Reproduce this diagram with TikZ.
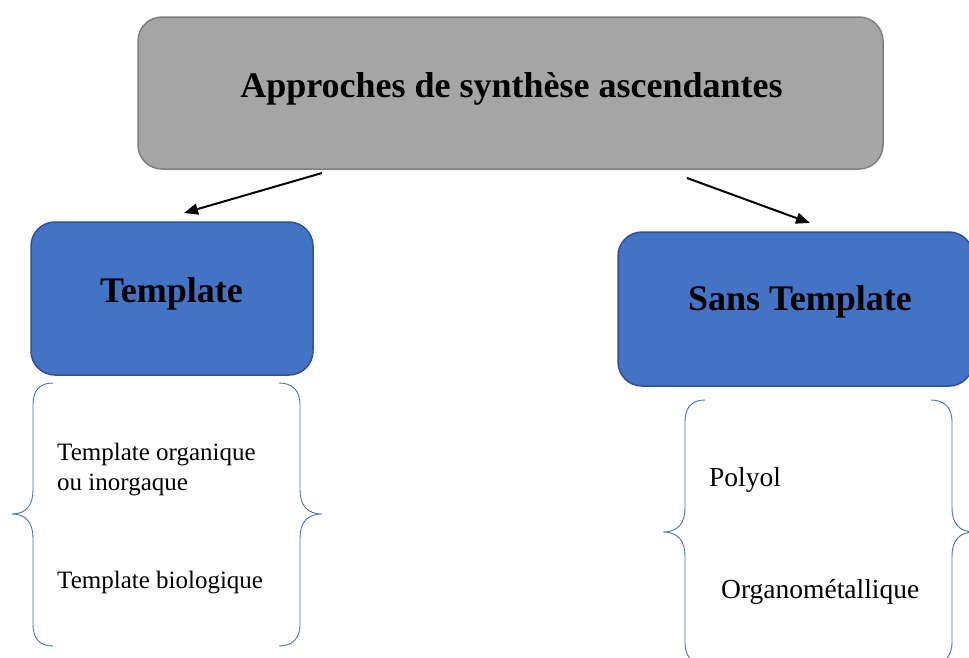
\documentclass[tikz,border=0pt]{standalone}
\usepackage{fontspec}
\setmainfont{Liberation Serif}
\usetikzlibrary{arrows.meta}
\definecolor{boxgray}{HTML}{A5A5A5}
\definecolor{graybd}{HTML}{7F7F7F}
\definecolor{bluefill}{HTML}{4472C4}
\definecolor{bluebd}{HTML}{2F528F}
\definecolor{bracecol}{HTML}{4472C4}
\tikzset{
  topbox/.style={draw=graybd, fill=boxgray, line width=1.5pt, rounded corners=24pt, inner sep=0pt},
  bluebox/.style={draw=bluebd, fill=bluefill, line width=1.5pt, rounded corners=24pt, inner sep=0pt},
  bigtxt/.style={font=\fontsize{36}{40}\selectfont\bfseries, anchor=base, inner sep=0pt, text=black},
  smalltxt/.style={font=\fontsize{25}{29}\selectfont, anchor=base west, inner sep=0pt, text=black},
  midtxt/.style={font=\fontsize{27.5}{32}\selectfont, anchor=base west, inner sep=0pt, text=black},
  arr/.style={line width=2pt, -{Triangle[length=14pt,width=11pt]}},
  bracestyle/.style={draw=bracecol, line width=0.9pt},
}
\begin{document}
\begin{tikzpicture}[x=1pt,y=-1pt]
\useasboundingbox (0,0) rectangle (969,657);
% boxes
\node[topbox, minimum width=745pt, minimum height=152pt] (top) at (510.5,93) {};
\node[bigtxt] (toptxt) at (511.5,97) {Approches de synthèse ascendantes};
\node[bluebox, minimum width=282pt, minimum height=153pt] (tpl) at (172,298.5) {};
\node[bigtxt] (tpltxt) at (171.5,302) {Template};
\node[bluebox, minimum width=355pt, minimum height=154pt] (sans) at (795.5,309) {};
\node[bigtxt] (sanstxt) at (800,310) {Sans Template};
% arrows
\coordinate (a1s) at (322,173);
\coordinate (a1e) at (184,213);
\coordinate (a2s) at (687,178);
\coordinate (a2e) at (810,223);
\draw[arr] (a1s) -- (a1e);
\draw[arr] (a2s) -- (a2e);
% left braces
\draw[bracestyle] (53,383) .. controls (40,383) and (33,390) .. (33,405) -- (33,490)
  .. controls (33,505) and (26,514) .. (12,514)
  .. controls (26,514) and (33,523) .. (33,538) -- (33,624)
  .. controls (33,639) and (40,646) .. (53,646);
\draw[bracestyle] (279,383) .. controls (292,383) and (300,390) .. (300,405) -- (300,490)
  .. controls (300,505) and (307,514) .. (322,514)
  .. controls (307,514) and (300,523) .. (300,538) -- (300,624)
  .. controls (300,639) and (292,646) .. (279,646);
% right braces
\draw[bracestyle] (705,400) .. controls (692,400) and (685,407) .. (685,422) -- (685,508)
  .. controls (685,523) and (678,532) .. (663,532)
  .. controls (678,532) and (685,541) .. (685,556) -- (685,642)
  .. controls (685,657) and (692,664) .. (705,664);
\draw[bracestyle] (931,400) .. controls (944,400) and (952,407) .. (952,422) -- (952,508)
  .. controls (952,523) and (959,532) .. (974,532)
  .. controls (959,532) and (952,541) .. (952,556) -- (952,642)
  .. controls (952,657) and (944,664) .. (931,664);
% texts
\node[smalltxt] (t1) at (57,460) {Template organique};
\node[smalltxt] (t2) at (57,490) {ou inorgaque};
\node[smalltxt] (t3) at (57,588) {Template biologique};
\node[midtxt] (t4) at (709,486) {Polyol};
\node[midtxt] (t5) at (721,598) {Organométallique};
\end{tikzpicture}
\end{document}
